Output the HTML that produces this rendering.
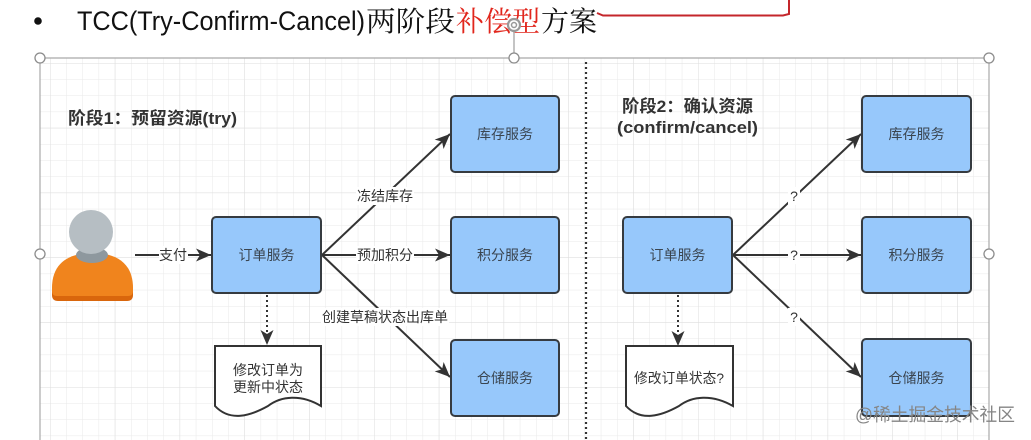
<!DOCTYPE html>
<html><head><meta charset="utf-8"><style>
html,body{margin:0;padding:0;background:#fff;}
svg{display:block;}
</style></head><body>
<svg width="1031" height="440" viewBox="0 0 1031 440" xmlns="http://www.w3.org/2000/svg">
<defs>
<pattern id="gmin" x="50" y="63" width="16.2" height="16.2" patternUnits="userSpaceOnUse">
<path d="M0,0 V16.2 M0,0 H16.2" stroke="#e9e9e9" stroke-width="1" fill="none"/>
</pattern>
<pattern id="gmaj" x="50" y="63" width="64.8" height="64.8" patternUnits="userSpaceOnUse">
<path d="M0,0 V64.8 M0,0 H64.8" stroke="#dedede" stroke-width="1" fill="none"/>
</pattern>
<marker id="ah" viewBox="-16 -8 17 16" refX="0" refY="0" markerWidth="17" markerHeight="16" markerUnits="userSpaceOnUse" orient="auto">
<path d="M0,0 L-15,-6.5 L-11,0 L-15,6.5 Z" fill="#333"/>
</marker>
</defs>

<!-- title -->
<circle cx="38" cy="21" r="3.8" fill="#111"/>
<text x="77" y="30" font-family="Liberation Sans, sans-serif" font-size="27" fill="#111" textLength="288" lengthAdjust="spacingAndGlyphs">TCC(Try-Confirm-Cancel)</text>
<text x="366" y="31" font-family="Noto Serif CJK SC, serif" font-size="28" fill="#111" textLength="89" lengthAdjust="spacingAndGlyphs">两阶段</text>
<text x="456" y="31" font-family="Noto Serif CJK SC, serif" font-size="28" fill="#e1261c" textLength="84" lengthAdjust="spacingAndGlyphs">补偿型</text>
<text x="541" y="31" font-family="Noto Serif CJK SC, serif" font-size="28" fill="#111" textLength="56" lengthAdjust="spacingAndGlyphs">方案</text>
<!-- red line -->
<path d="M597,13 L603,15.5 L783,15.5 L789,14 L789,0" stroke="#c4262b" stroke-width="2" fill="none"/>

<!-- grid -->
<rect x="40" y="58" width="949" height="382" fill="#fff"/>
<rect x="40" y="58" width="949" height="382" fill="url(#gmin)"/>
<rect x="40" y="58" width="949" height="382" fill="url(#gmaj)"/>
<!-- frame -->
<path d="M40,440 V58 H989 V440" stroke="#a9a9a9" stroke-width="1.2" fill="none"/>
<line x1="514" y1="30" x2="514" y2="58" stroke="#b0b0b0" stroke-width="1.5"/>
<g fill="#fff" stroke="#8c8c8c" stroke-width="1.3">
<circle cx="40" cy="58" r="5"/>
<circle cx="514" cy="58" r="5"/>
<circle cx="989" cy="58" r="5"/>
<circle cx="40" cy="254" r="5"/>
<circle cx="989" cy="254" r="5"/>
</g>
<circle cx="514" cy="25" r="6" fill="#fff" stroke="#999" stroke-width="2.2"/>
<circle cx="514" cy="25" r="2.5" fill="none" stroke="#999" stroke-width="1.5"/>

<!-- separator -->
<line x1="586" y1="62" x2="586" y2="440" stroke="#333" stroke-width="2.2" stroke-dasharray="2 3"/>

<g font-family="Liberation Sans, Noto Sans CJK SC, sans-serif">
<!-- stage titles -->
<text x="68" y="124" font-size="17" font-weight="bold" fill="#333" textLength="169" lengthAdjust="spacingAndGlyphs">阶段1：预留资源(try)</text>
<text x="622" y="112" font-size="17" font-weight="bold" fill="#333" textLength="131" lengthAdjust="spacingAndGlyphs">阶段2：确认资源</text>
<text x="617" y="133" font-size="17" font-weight="bold" fill="#333" textLength="141" lengthAdjust="spacingAndGlyphs">(confirm/cancel)</text>

<!-- person -->
<path d="M52,292 C52,264 70,254 92.5,254 C115,254 133,264 133,292 L133,295 Q133,301 127,301 L58,301 Q52,301 52,295 Z" fill="#d9660c"/>
<path d="M52,288 C52,262 70,253 92.5,253 C115,253 133,262 133,288 L133,291 Q133,296 128,296 L57,296 Q52,296 52,291 Z" fill="#f0841d"/>
<ellipse cx="92" cy="255" rx="16" ry="8" fill="#8e989e"/>
<circle cx="91" cy="232" r="22" fill="#b6bec3"/>

<!-- connectors -->
<g stroke="#333" stroke-width="2" fill="none" marker-end="url(#ah)">
<line x1="135" y1="255" x2="211" y2="255"/>
<line x1="322" y1="255" x2="450" y2="134"/>
<line x1="322" y1="255" x2="450" y2="255"/>
<line x1="322" y1="255" x2="450" y2="377"/>
<line x1="733" y1="255" x2="861" y2="134"/>
<line x1="733" y1="255" x2="861" y2="255"/>
<line x1="733" y1="255" x2="861" y2="377"/>
<line x1="267" y1="295" x2="267" y2="345" stroke-dasharray="2 3"/>
<line x1="678" y1="295" x2="678" y2="346" stroke-dasharray="2 3"/>
</g>

<!-- label backgrounds -->
<g fill="#fff">
<rect x="159" y="246" width="29" height="18"/>
<rect x="356" y="187" width="58" height="18"/>
<rect x="356" y="246" width="58" height="18"/>
<rect x="321" y="308" width="128" height="18"/>
<rect x="788" y="187" width="12" height="18"/>
<rect x="788" y="246" width="12" height="18"/>
<rect x="788" y="308" width="12" height="18"/>
</g>
<g font-size="14" fill="#333" text-anchor="middle">
<text x="173" y="260">支付</text>
<text x="385" y="201">冻结库存</text>
<text x="385" y="260">预加积分</text>
<text x="385" y="322" textLength="126" lengthAdjust="spacingAndGlyphs">创建草稿状态出库单</text>
<text x="794" y="201">?</text>
<text x="794" y="260">?</text>
<text x="794" y="322">?</text>
</g>

<!-- boxes -->
<g fill="#97c8fb" stroke="#363b40" stroke-width="2">
<rect x="212" y="217" width="109" height="76" rx="4"/>
<rect x="451" y="96" width="108" height="76" rx="4"/>
<rect x="451" y="217" width="108" height="76" rx="4"/>
<rect x="451" y="340" width="108" height="76" rx="4"/>
<rect x="623" y="217" width="109" height="76" rx="4"/>
<rect x="862" y="96" width="109" height="76" rx="4"/>
<rect x="862" y="217" width="109" height="76" rx="4"/>
<rect x="862" y="339" width="109" height="77" rx="4"/>
</g>
<g font-size="14" fill="#3a4550" text-anchor="middle">
<text x="266.5" y="260">订单服务</text>
<text x="505" y="139">库存服务</text>
<text x="505" y="260">积分服务</text>
<text x="505" y="383">仓储服务</text>
<text x="677.5" y="260">订单服务</text>
<text x="916.5" y="139">库存服务</text>
<text x="916.5" y="260">积分服务</text>
<text x="916.5" y="383">仓储服务</text>
</g>

<!-- documents -->
<g fill="#fff" stroke="#333" stroke-width="2">
<path d="M215,346 L321,346 L321,406 C301,394 281,396 268,406 C250,416 230,422 215,406 Z"/>
<path d="M626,346 L733,346 L733,406 C712,394 692,396 679,406 C661,416 641,422 626,406 Z"/>
</g>
<g font-size="14" fill="#333" text-anchor="middle">
<text x="268" y="375">修改订单为</text>
<text x="268" y="392">更新中状态</text>
<text x="679" y="383" textLength="90" lengthAdjust="spacingAndGlyphs">修改订单状态?</text>
</g>

<!-- watermark -->
<text x="855" y="421" font-size="18" fill="#858585" textLength="160" lengthAdjust="spacingAndGlyphs">@稀土掘金技术社区</text>
</g>
</svg>
</body></html>
